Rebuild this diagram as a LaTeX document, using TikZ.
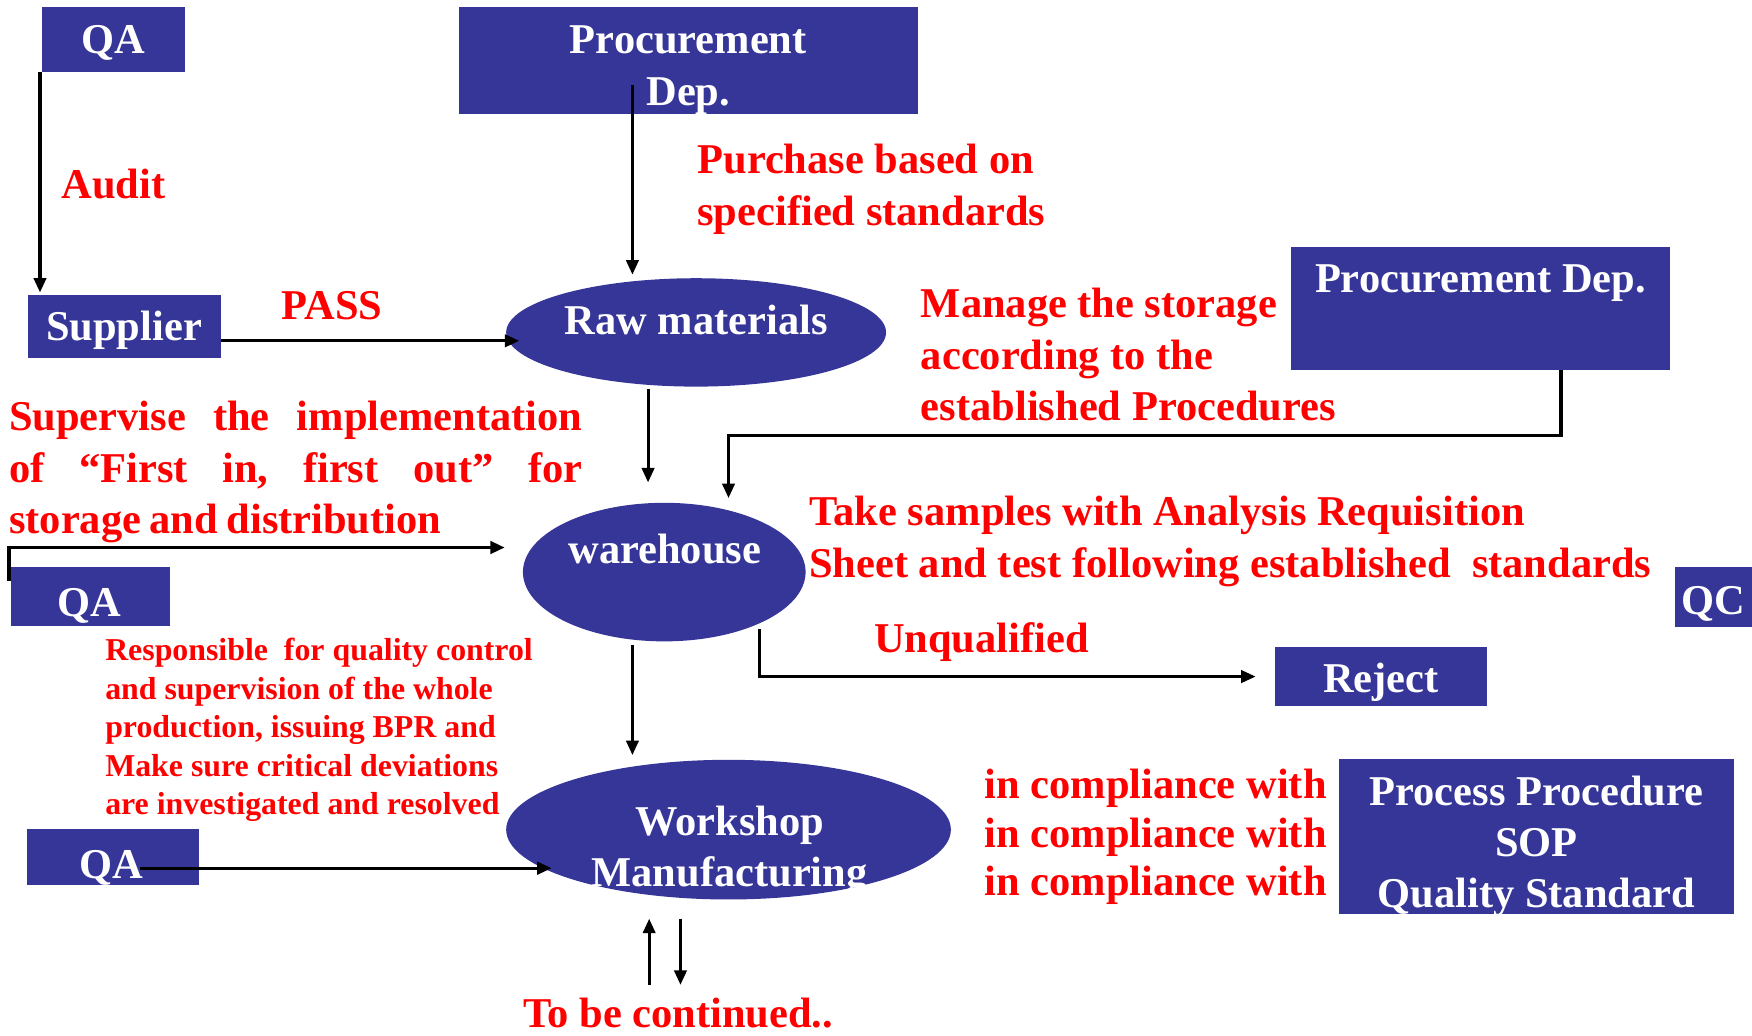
\documentclass[tikz,border=0pt]{standalone}
\usepackage{fontspec}
\setmainfont{Liberation Serif}
\usetikzlibrary{shapes.geometric,arrows.meta,calc}
\definecolor{qblue}{RGB}{54,54,153}
\definecolor{qred}{RGB}{255,0,0}
\newcommand\bigtxt{\bfseries\fontsize{38}{46}\selectfont}
\newcommand\cmptxt{\bfseries\fontsize{38}{43.5}\selectfont}
\newcommand\smalltxt{\bfseries\fontsize{28.5}{34.5}\selectfont}
\begin{document}
\begin{tikzpicture}[x=1pt,y=-1pt,
  box/.style={rectangle,fill=qblue,inner sep=0pt},
  oval/.style={ellipse,fill=qblue,inner sep=0pt},
  wt/.style={text=white,font=\bigtxt,inner sep=0pt},
  rt/.style={text=qred,font=\bigtxt,inner sep=0pt},
  arr/.style={-{Triangle[length=13pt,width=11pt]},line width=2.8pt},
]
\useasboundingbox (0,0) rectangle (1568,927);

% boxes
\node[box,minimum width=128pt,minimum height=58pt] (qa1) at (102,35) {};
\node[box,minimum width=411pt,minimum height=96pt] (proc1) at (616.5,54) {};
\node[box,minimum width=173pt,minimum height=56pt] (supplier) at (111.5,292) {};
\node[box,minimum width=340pt,minimum height=110pt] (proc2) at (1325,276) {};
\node[box,minimum width=142pt,minimum height=53pt] (qa2) at (81,533.5) {};
\node[box,minimum width=69pt,minimum height=54pt] (qc) at (1533.5,534) {};
\node[box,minimum width=190pt,minimum height=53pt] (reject) at (1236,605.5) {};
\node[box,minimum width=154pt,minimum height=50pt] (qa3) at (101,767) {};
\node[box,minimum width=354pt,minimum height=139pt] (process) at (1375,748.5) {};

% ellipses
\node[oval,minimum width=340pt,minimum height=97pt] (raw) at (623,297.5) {};
\node[oval,minimum width=253pt,minimum height=124pt] (wh) at (594.5,512) {};
\node[oval,minimum width=398pt,minimum height=125pt] (ws) at (652,742.5) {};

% white texts
\node[wt,anchor=base] (qa1t) at (101,48) {QA};
\node[wt,anchor=north,align=center] (proc1t) at (616,23) {Procurement\\Dep.};
\node[wt,anchor=base] (supt) at (111,305) {Supplier};
\node[wt,anchor=base] (rawt) at (623,299) {Raw materials};
\node[wt,anchor=base] (proc2t) at (1325,262) {Procurement Dep.};
\node[wt,anchor=base] (wht) at (595,504) {warehouse};
\node[wt,anchor=base] (qa2t) at (80,552) {QA};
\node[wt,anchor=base] (qct) at (1533,550) {QC};
\node[wt,anchor=base] (rejt) at (1236,620) {Reject};
\node[wt,anchor=north,align=center] (wst) at (653,721) {Workshop\\Manufacturing};
\node[wt,anchor=base] (qa3t) at (100,786) {QA};
\node[wt,anchor=north,align=center] (proct) at (1375,694) {Process Procedure\\SOP\\Quality Standard};

% red texts
\node[rt,anchor=base west] (audit) at (55,178) {Audit};
\node[rt,anchor=base west] (pass) at (252,286) {PASS};
\node[rt,anchor=north west,align=left] (purch) at (624,129) {Purchase based on\\specified standards};
\node[rt,anchor=north west,align=left] (manage) at (824,258) {Manage the storage\\according to the\\established Procedures};
\node[rt,anchor=north west,text width=513pt,align=left] (superv) at (8,359)
  {Supervise\hfill the\hfill implementation\\of\hfill “First\hfill in,\hfill first\hfill out”\hfill for\\storage\hspace{0.2em}and\hspace{0.2em}distribution};
\node[rt,anchor=north west,align=left] (take) at (724,444)
  {Take samples with Analysis Requisition\\Sheet and test following established~~standards};
\node[rt,anchor=base west] (unq) at (782,584) {Unqualified};
\node[rt,font=\smalltxt,anchor=north west,align=left] (resp) at (94,571)
  {Responsible~~for quality control\\and supervision of the whole\\production, issuing BPR and\\Make sure critical deviations\\are investigated and resolved};
\node[rt,font=\cmptxt,anchor=north west,align=left] (comp) at (881,688)
  {in compliance with\\in compliance with\\in compliance with};
\node[rt,anchor=base] (cont) at (607,920) {To be continued..};

% connectors
\draw[arr] ($(qa1.south west)+(-2,0)$) -- ($(qa1.south west |- supplier.north)+(-2,-2)$);
\draw[arr,line width=3pt] ($(supplier.east)+(0,13)$) -- ($(raw.west)+(12,7.5)$);
\draw[arr] ($(proc1.center)+(-50.5,22)$) -- ($(raw.north)+(-57,-3)$);
\draw[arr] ($(raw.south)+(-43,2)$) -- ($(wh.north)+(-14.5,-18)$);
\draw[arr] ($(proc2.south)+(72,0)$) |- ($(wh.north)+(57.5,-60)$) -- ($(wh.north)+(57.5,-4)$);
\draw[arr,line width=3.5pt] ($(qa2.north west)+(-2,13)$) |- ($(wh.west)+(-16,-22)$);
\draw[arr] ($(wh.center)+(85.5,51)$) |- ($(reject.west)+(-17,0)$);
\draw[arr] ($(wh.south)+(-28.5,3)$) -- ($(ws.north)+(-86,-4)$);
\draw[arr,line width=3pt] ($(qa3.center)+(24,10)$) -- ($(ws.west)+(41,34.5)$);
\draw[arr] ($(cont.north)+(-26,-12)$) -- ($(ws.south)+(-71,17)$);
\draw[arr] ($(ws.south)+(-43,17)$) -- ($(cont.north)+(2,-12)$);
\end{tikzpicture}
\end{document}
